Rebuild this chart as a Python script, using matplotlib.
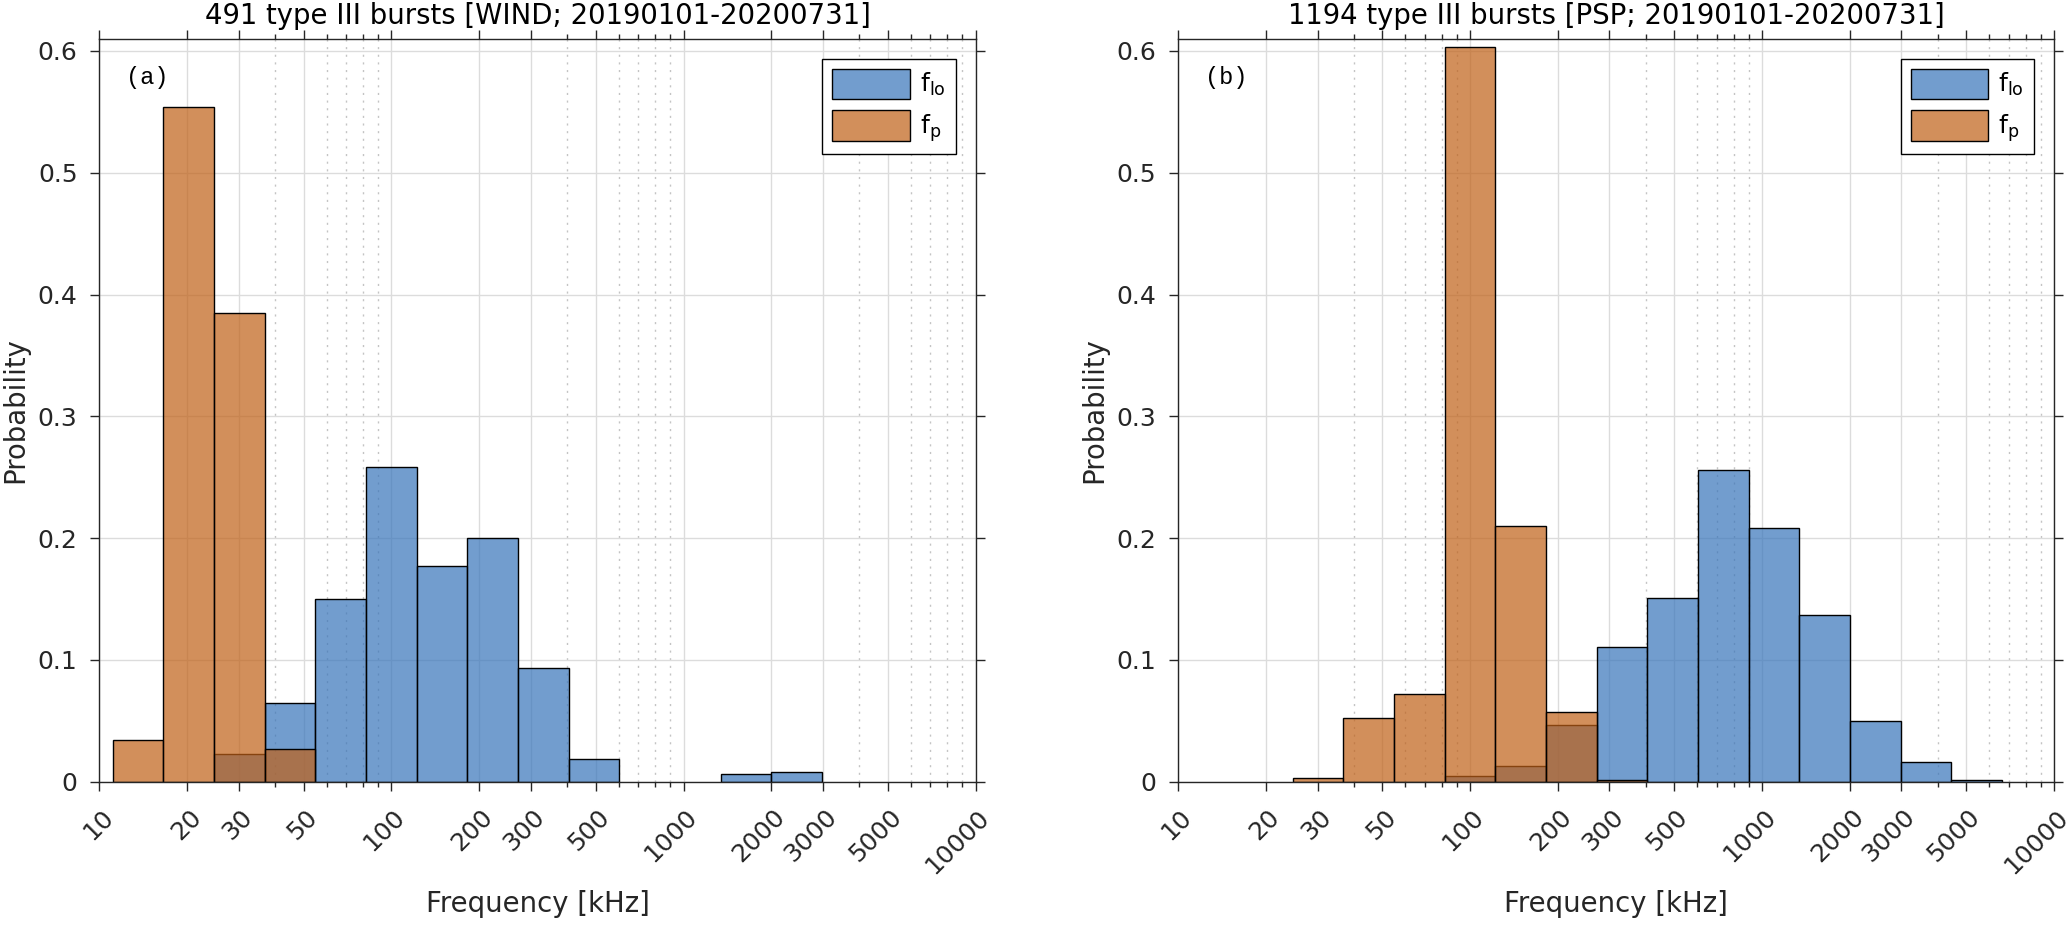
import matplotlib

matplotlib.use("Agg")

import matplotlib.pyplot as plt
import numpy as np
from matplotlib.ticker import FixedLocator, NullFormatter
from matplotlib.transforms import ScaledTranslation

plt.rcParams["font.family"] = ["DejaVu Sans"]

# log-spaced bin edges shared by all histograms [kHz]
bin_edges = [11.10, 16.56, 24.70, 36.81, 54.90, 81.85, 122.0, 182.0, 271.3,
             404.6, 603.4, 899.5, 1341, 2000, 2982, 4446, 6630]

# probabilities per bin
wind_flo = [0, 0, 0.0226, 0.065, 0.150, 0.258, 0.177, 0.1998, 0.0936, 0.0183,
            0, 0, 0.006, 0.008, 0, 0]
wind_fp = [0.0343, 0.554, 0.385, 0.0265, 0, 0, 0, 0, 0, 0, 0, 0, 0, 0, 0, 0]
psp_flo = [0, 0, 0, 0, 0, 0.005, 0.0133, 0.0464, 0.111, 0.1506, 0.2556, 0.2087,
           0.137, 0.050, 0.0164, 0.0012]
psp_fp = [0, 0, 0.0031, 0.0523, 0.0718, 0.603, 0.210, 0.0574, 0.0017, 0, 0, 0,
          0, 0, 0, 0]

titles = ["491 type III bursts [WIND; 20190101-20200731]",
          "1194 type III bursts [PSP; 20190101-20200731]"]
panel_tags = ["(a)", "(b)"]

major_ticks = [10, 20, 30, 50, 100, 200, 300, 500, 1000, 2000, 3000, 5000, 10000]
minor_ticks = [40, 60, 70, 80, 90, 400, 600, 700, 800, 900,
               4000, 6000, 7000, 8000, 9000]

BLUE = (55 / 255, 116 / 255, 186 / 255, 0.7)
ORANGE = (192 / 255, 96 / 255, 22 / 255, 0.7)
INK = "#262626"

fig = plt.figure(figsize=(20.7, 9.25), dpi=100)
axes = [fig.add_axes([0.0480, 0.1549, 0.4233, 0.8033]),
        fig.add_axes([0.5692, 0.1549, 0.4231, 0.8033])]

edges = np.array(bin_edges)
widths = np.diff(edges)

for ax, flo, fp, title, tag in zip(axes, [wind_flo, psp_flo], [wind_fp, psp_fp],
                                   titles, panel_tags):
    ax.set_xscale("log")
    ax.set_axisbelow(True)
    for vals, col, lab in [(flo, BLUE, r"$\mathregular{f_{lo}}$"),
                           (fp, ORANGE, r"$\mathregular{f_{p}}$")]:
        vals = np.array(vals)
        m = vals > 0
        ax.bar(edges[:-1][m], vals[m], width=widths[m], align="edge",
               color=col, edgecolor="black", linewidth=1.0, label=lab)

    ax.set_xlim(10, 10000)
    ax.set_ylim(0, 0.6101)
    ax.xaxis.set_major_locator(FixedLocator(major_ticks))
    ax.xaxis.set_minor_locator(FixedLocator(minor_ticks))
    ax.xaxis.set_minor_formatter(NullFormatter())
    ax.set_xticklabels([str(t) for t in major_ticks])
    ax.set_yticks([0, 0.1, 0.2, 0.3, 0.4, 0.5, 0.6])
    ax.set_yticklabels(["0", "0.1", "0.2", "0.3", "0.4", "0.5", "0.6"])

    ax.grid(True, which="major", color="#dcdcdc", linewidth=1.0)
    ax.grid(True, which="minor", axis="x", color="#c4c4c4", linewidth=1.0,
            linestyle=(0, (1.5, 4)))

    ax.tick_params(which="both", direction="out", top=True, right=True,
                   colors=INK, labelsize=18, width=1.0)
    ax.tick_params(which="major", length=6.7, pad=9)
    ax.tick_params(which="minor", length=3.4)
    ax.tick_params(axis="x", which="major", pad=16.2)
    for sp in ax.spines.values():
        sp.set_color(INK)
        sp.set_linewidth(1.0)

    # rotated tick labels, right end just past the tick like the original
    offset = ScaledTranslation(10 / 100, 0, fig.dpi_scale_trans)
    for lbl in ax.get_xticklabels():
        lbl.set_rotation(45)
        lbl.set_ha("right")
        lbl.set_va("center")
        lbl.set_rotation_mode("anchor")
        lbl.set_transform(lbl.get_transform() + offset)

    ax.set_title(title, fontsize=19.8, color="black", pad=10.5)
    ax.set_xlabel("Frequency [kHz]", fontsize=19.8, color=INK, va="center")
    ax.xaxis.set_label_coords(0.5, -0.165)
    ax.set_ylabel("Probability", fontsize=19.8, color=INK, va="center")
    ax.yaxis.set_label_coords(-0.0955, 0.5)
    ax.text(0.030, 0.948, tag, transform=ax.transAxes, fontsize=17,
            family="Liberation Mono", ha="left", va="center", color="black")

    leg = ax.legend(loc="upper right", fontsize=18, fancybox=False,
                    edgecolor="black", framealpha=1, borderaxespad=0.8,
                    handlelength=3.1, handleheight=1.5, labelspacing=0.45,
                    handletextpad=0.4, borderpad=0.4)
    leg.get_frame().set_linewidth(1.0)

fig.savefig("out.png", dpi=100)
